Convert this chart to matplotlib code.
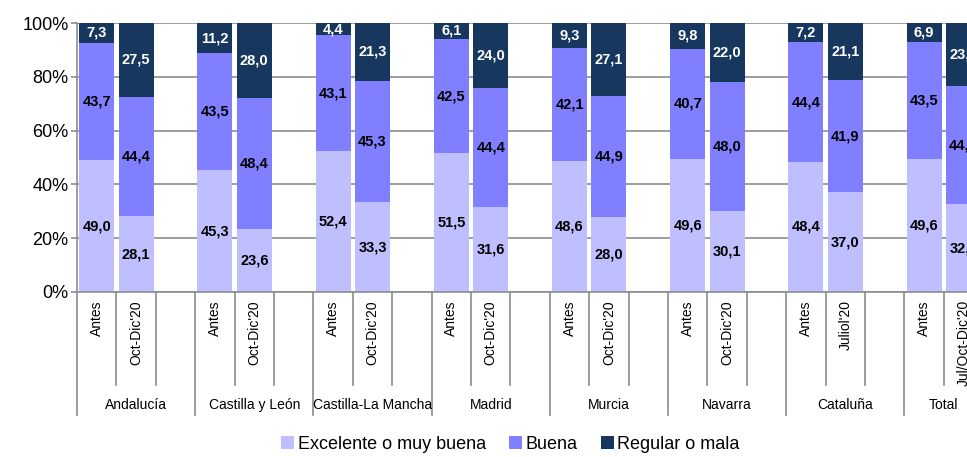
import matplotlib
matplotlib.use("Agg")
import matplotlib.pyplot as plt
from matplotlib.patches import Patch
import numpy as np

plt.rcParams['font.family'] = ['Liberation Sans', 'DejaVu Sans']

# data
groups = ['Andalucía', 'Castilla y León', 'Castilla-La Mancha', 'Madrid',
          'Murcia', 'Navarra', 'Cataluña', 'Total']
periods = [["Antes", "Oct-Dic'20"], ["Antes", "Oct-Dic'20"], ["Antes", "Oct-Dic'20"],
           ["Antes", "Oct-Dic'20"], ["Antes", "Oct-Dic'20"], ["Antes", "Oct-Dic'20"],
           ["Antes", "Juliol'20"], ["Antes", "Jul/Oct-Dic'20"]]
excelente = [49.0, 28.1, 45.3, 23.6, 52.4, 33.3, 51.5, 31.6,
             48.6, 28.0, 49.6, 30.1, 48.4, 37.0, 49.6, 32.6]
buena = [43.7, 44.4, 43.5, 48.4, 43.1, 45.3, 42.5, 44.4,
         42.1, 44.9, 40.7, 48.0, 44.4, 41.9, 43.5, 44.0]
regular = [7.3, 27.5, 11.2, 28.0, 4.4, 21.3, 6.1, 24.0,
           9.3, 27.1, 9.8, 22.0, 7.2, 21.1, 6.9, 23.4]
series_names = ['Excelente o muy buena', 'Buena', 'Regular o mala']
colors = ['#BFBFFF', '#7F7FFF', '#17375E']
text_colors = ['black', 'black', 'white']

# slot positions: two bars per group, then an empty slot (none after Total)
xpos = []
labels = []
for g, per in enumerate(periods):
    for k, p in enumerate(per):
        xpos.append(g * 3 + k)
        labels.append(p)
xpos = np.array(xpos)
n_slots = 3 * len(groups) - 1

fig = plt.figure(figsize=(9.67, 4.57), dpi=100)
ax = fig.add_axes([77 / 967, 1 - 292 / 457, (n_slots * 39.4) / 967, 269 / 457])

grey = '#8C8C8C'
bottom = np.zeros(len(xpos))
for vals, col, tcol in zip([excelente, buena, regular], colors, text_colors):
    vals = np.array(vals)
    ax.bar(xpos, vals, bottom=bottom, width=0.89, color=col, zorder=2)
    for x, b, v in zip(xpos, bottom, vals):
        ax.text(x, b + v / 2, f"{v:.1f}".replace('.', ','), ha='center', va='center',
                color=tcol, fontsize=10.5, fontweight='bold', zorder=3)
    bottom += vals

ax.set_xlim(-0.5, n_slots - 0.5)
ax.set_ylim(0, 100)
ax.set_yticks(np.arange(0, 101, 20))
ax.set_yticklabels([f"{t}%" for t in range(0, 101, 20)], fontsize=13)
ax.yaxis.grid(True, color=grey, linewidth=1.2, zorder=0)
ax.set_axisbelow(True)
ax.set_xticks([])
for s in ['top', 'right']:
    ax.spines[s].set_visible(False)
for s in ['left', 'bottom']:
    ax.spines[s].set_color(grey)
    ax.spines[s].set_linewidth(1.2)
ax.tick_params(axis='y', color=grey, length=4, width=1.2, pad=2)

# multi-level category axis
trans = ax.get_xaxis_transform()
for b in range(n_slots + 1):
    depth = -0.457 if b % 3 == 0 or b == n_slots else -0.346
    ax.plot([b - 0.5, b - 0.5], [0, depth], color=grey, lw=1.2,
            transform=trans, clip_on=False)
for x, lab in zip(xpos, labels):
    ax.text(x, -0.03, lab, rotation=90, ha='center', va='top', fontsize=10,
            transform=trans, clip_on=False)
for g, name in enumerate(groups):
    ng = len(periods[g]) + (1 if g < len(groups) - 1 else 0)
    center = g * 3 + (ng - 1) / 2
    ax.text(center, -0.42, name, ha='center', va='center', fontsize=10,
            transform=trans, clip_on=False)

handles = [Patch(facecolor=c, edgecolor='none') for c in colors]
fig.legend(handles, series_names, loc='center', bbox_to_anchor=(0.528, 0.028),
           ncol=3, frameon=False, fontsize=13, handlelength=0.7, handleheight=0.7,
           handletextpad=0.2, columnspacing=1.3, borderaxespad=0, borderpad=0)

fig.savefig('out.png', dpi=100)
